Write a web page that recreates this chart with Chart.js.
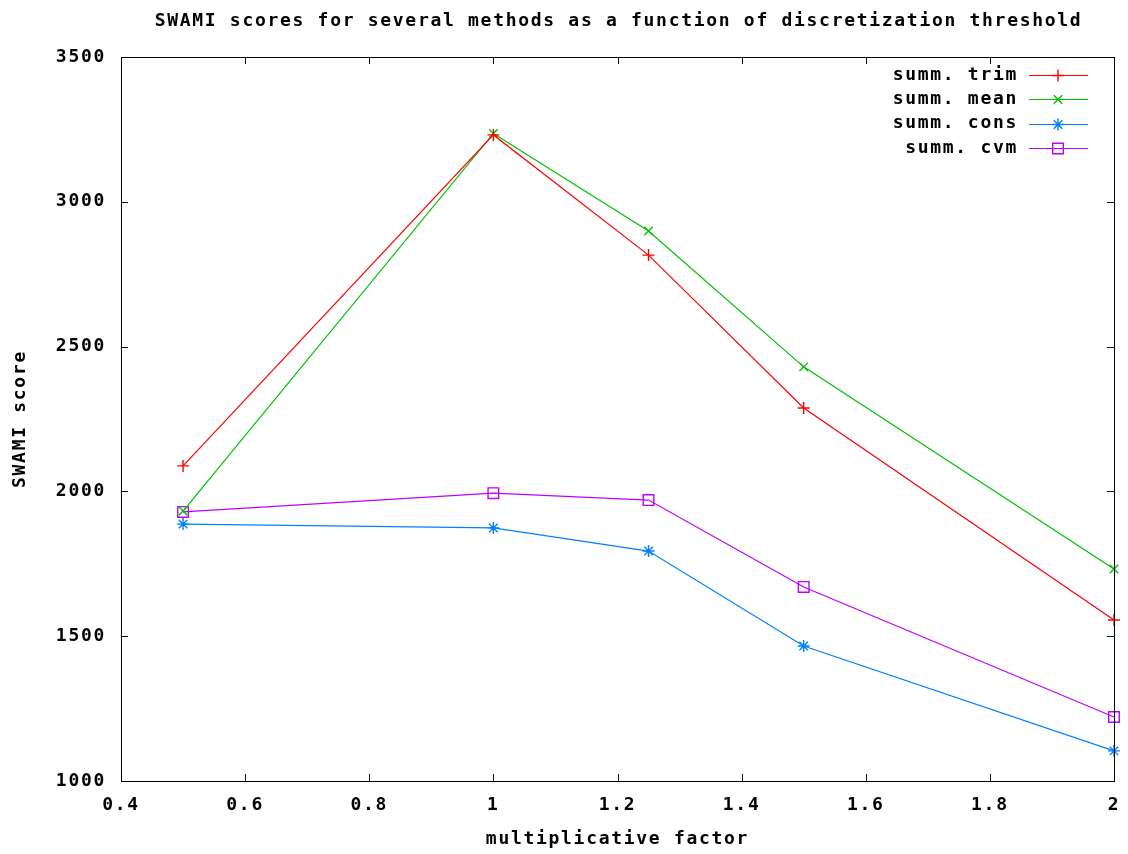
<!DOCTYPE html>
<html>
<head>
<meta charset="utf-8">
<script src="https://cdn.jsdelivr.net/npm/chart.js@4/dist/chart.umd.min.js"></script>
<style>
html,body{margin:0;padding:0;background:#fff;}
#wrap{width:1128px;height:854px;position:relative;}
</style>
</head>
<body>
<div id="wrap"><canvas id="c" width="1128" height="854"></canvas></div>
<script>
const factors = [0.5, 1, 1.25, 1.5, 2];
const summTrim = [2088, 3231, 2816, 2288, 1556];
const summMean = [1932, 3236, 2899, 2430, 1732];
const summCons = [1887, 1874, 1794, 1466, 1104];
const summCvm  = [1929, 1994, 1970, 1670, 1221];
const seriesNames = ['summ. trim', 'summ. mean', 'summ. cons', 'summ. cvm'];
const titleText = 'SWAMI scores for several methods as a function of discretization threshold';
const xTitle = 'multiplicative factor';
const yTitle = 'SWAMI score';

const FONT = '"DejaVu Sans Mono", "Liberation Mono", monospace';
const FS = 18;
const LS = '1.7px';

function pts(vals){ return factors.map((x,i)=>({x:x, y:vals[i]})); }

function ds(label, vals, color, style, r){
  return {label, data: pts(vals), borderColor: color, backgroundColor: 'rgba(0,0,0,0)',
    pointBorderColor: color, pointBackgroundColor: 'rgba(0,0,0,0)', borderWidth: 1.2,
    pointStyle: style, pointRadius: r, pointHoverRadius: r, pointBorderWidth: 1.4,
    showLine: true, clip: false, tension: 0};
}

const spacing = {
  id: 'spacing',
  beforeUpdate(c){ c.ctx.letterSpacing = LS; },
  beforeLayout(c){ c.ctx.letterSpacing = LS; },
  beforeDraw(c){ c.ctx.letterSpacing = LS; },
  afterDraw(c){
    const ctx = c.ctx, a = c.chartArea;
    const xs = c.scales.x, ys = c.scales.y;
    ctx.save();
    ctx.letterSpacing = LS;
    ctx.strokeStyle = '#000'; ctx.lineWidth = 1;
    ctx.strokeRect(Math.round(a.left)+0.5, Math.round(a.top)+0.5, Math.round(a.right-a.left), Math.round(a.bottom-a.top));
    const L = 7;
    ctx.beginPath();
    xs.ticks.forEach(t=>{
      const px = Math.round(xs.getPixelForValue(t.value))+0.5;
      ctx.moveTo(px, a.bottom); ctx.lineTo(px, a.bottom - L);
      ctx.moveTo(px, a.top); ctx.lineTo(px, a.top + L);
    });
    ys.ticks.forEach(t=>{
      const py = Math.round(ys.getPixelForValue(t.value))+0.5;
      ctx.moveTo(a.left, py); ctx.lineTo(a.left + L, py);
      ctx.moveTo(a.right, py); ctx.lineTo(a.right - L, py);
    });
    ctx.stroke();
    ctx.fillStyle = '#000';
    ctx.font = 'bold ' + FS + 'px ' + FONT;
    ctx.textAlign = 'center'; ctx.textBaseline = 'middle';
    ctx.fillText(titleText, (a.left + a.right)/2 + 1, 21);
    const tx = 1018, lx1 = 1029, lx2 = 1088, mx = 1058;
    c.data.datasets.forEach((d, i)=>{
      const y = 75 + i*24.3;
      ctx.textAlign = 'right';
      ctx.fillStyle = '#000';
      ctx.fillText(d.label, tx, y);
      ctx.strokeStyle = d.borderColor; ctx.lineWidth = 1.2;
      ctx.beginPath(); ctx.moveTo(lx1, Math.round(y)+0.5); ctx.lineTo(lx2, Math.round(y)+0.5); ctx.stroke();
      ctx.lineWidth = 1.4;
      ctx.fillStyle = 'rgba(0,0,0,0)';
      Chart.helpers.drawPoint(ctx, {pointStyle: d.pointStyle, radius: d.pointRadius, rotation: 0, borderWidth: 1.4}, mx, Math.round(y)+0.5);
    });
    ctx.restore();
  }
};

const tickFont = { family: FONT, size: FS, weight: 'bold' };

new Chart(document.getElementById('c'), {
  type: 'scatter',
  data: { datasets: [
    ds(seriesNames[0], summTrim, '#ff0000', 'cross', 6),
    ds(seriesNames[1], summMean, '#00c000', 'crossRot', 6),
    ds(seriesNames[2], summCons, '#0080ff', 'star', 6),
    ds(seriesNames[3], summCvm,  '#c000ff', 'rect', 7.5)
  ]},
  options: {
    responsive: false, animation: false, devicePixelRatio: 1,
    layout: { padding: { top: 57, right: 14, left: 0, bottom: 0 } },
    plugins: { legend: { display: false }, title: { display: false }, tooltip: { enabled: false } },
    scales: {
      x: {
        type: 'linear', min: 0.4, max: 2,
        grid: { display: false, drawTicks: false },
        border: { display: false },
        ticks: { stepSize: 0.2, padding: 14, color: '#000', maxRotation: 0, font: tickFont,
          callback: v => String(Number(v.toFixed(1))) },
        title: { display: true, text: xTitle, color: '#000', padding: { top: 0, bottom: 4 }, font: tickFont },
        afterFit: s => { s.height = 73; s.paddingLeft = 0; s.paddingRight = 0; }
      },
      y: {
        min: 1000, max: 3500,
        grid: { display: false, drawTicks: false },
        border: { display: false },
        ticks: { stepSize: 500, padding: 15, color: '#000', font: tickFont,
          callback: v => String(v) },
        title: { display: true, text: yTitle, color: '#000', padding: { top: 10, bottom: 0 }, font: tickFont },
        afterFit: s => { s.width = 121; s.paddingTop = 0; s.paddingBottom = 0; }
      }
    }
  },
  plugins: [spacing]
});
</script>
</body>
</html>
